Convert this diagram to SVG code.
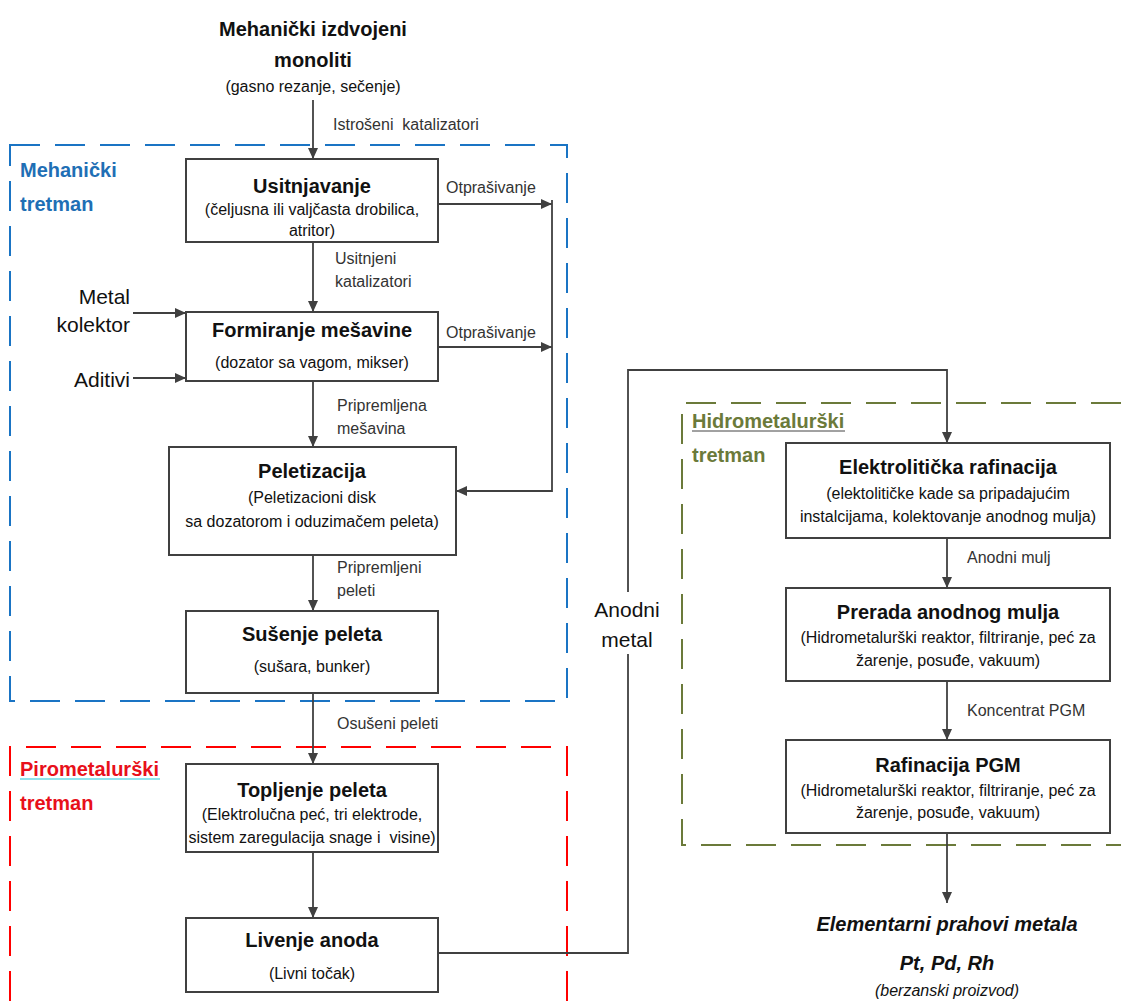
<svg xmlns="http://www.w3.org/2000/svg" width="1121" height="1001" viewBox="0 0 1121 1001">
<style>
text{font-family:"Liberation Sans",Arial,sans-serif;fill:#111}
.box{fill:#fff;stroke:#404040;stroke-width:2}
.t{font-weight:bold;font-size:20px;text-anchor:middle}
.s{font-size:16px;text-anchor:middle}
.l{font-size:16px;fill:#333}
.side{font-size:21px}
.c{fill:none;stroke:#404040;stroke-width:1.8}
.sec{font-weight:bold;font-size:20px}
</style>
<defs>
<marker id="ah" markerUnits="userSpaceOnUse" markerWidth="11" markerHeight="10" refX="11" refY="5" orient="auto">
<path d="M0,0 L11,5 L0,10 Z" fill="#404040"/>
</marker>
</defs>

<g id="regions">
<path d="M10,145 H567 V701 H10 Z" fill="none" stroke="#1a74c4" stroke-width="2" stroke-dasharray="30 15"/>
<path d="M10,1001 V747 H567 V1001" fill="none" stroke="#ff0000" stroke-width="2" stroke-dasharray="30 15"/>
<path d="M1121,403 H682 V845 H1121" fill="none" stroke="#6b7a3a" stroke-width="2" stroke-dasharray="30 15"/>
<text class="sec" x="20" y="177" style="fill:#1f6fb5">Mehanički</text>
<text class="sec" x="20" y="211" style="fill:#1f6fb5">tretman</text>
<text class="sec" x="20" y="776" style="fill:#e8101a">Pirometalurški</text>
<line x1="20" y1="779" x2="160" y2="779" stroke="#22c8d8" stroke-width="1.2"/>
<text class="sec" x="20" y="810" style="fill:#e8101a">tretman</text>
<text class="sec" x="692" y="428" style="fill:#6b7a3a">Hidrometalurški</text>
<line x1="692" y1="431" x2="845" y2="431" stroke="#444" stroke-width="1"/>
<text class="sec" x="692" y="462" style="fill:#6b7a3a">tretman</text>
</g>

<g id="connectors">
<line class="c" x1="313" y1="100" x2="313" y2="159" marker-end="url(#ah)"/>
<line class="c" x1="313" y1="242" x2="313" y2="312" marker-end="url(#ah)"/>
<line class="c" x1="313" y1="381" x2="313" y2="447" marker-end="url(#ah)"/>
<line class="c" x1="313" y1="555" x2="313" y2="611" marker-end="url(#ah)"/>
<line class="c" x1="313" y1="693" x2="313" y2="764" marker-end="url(#ah)"/>
<line class="c" x1="313" y1="852" x2="313" y2="918" marker-end="url(#ah)"/>
<line class="c" x1="438" y1="204" x2="552" y2="204" marker-end="url(#ah)"/>
<line class="c" x1="438" y1="347" x2="552" y2="347" marker-end="url(#ah)"/>
<polyline class="c" points="552,200 552,491 456,491" marker-end="url(#ah)"/>
<line class="c" x1="133" y1="313" x2="186" y2="313" marker-end="url(#ah)"/>
<line class="c" x1="133" y1="378" x2="186" y2="378" marker-end="url(#ah)"/>
<polyline class="c" points="438,953 628,953 628,654"/>
<polyline class="c" points="628,592 628,370 947,370 947,443" marker-end="url(#ah)"/>
<line class="c" x1="947" y1="538" x2="947" y2="588" marker-end="url(#ah)"/>
<line class="c" x1="947" y1="681" x2="947" y2="740" marker-end="url(#ah)"/>
<line class="c" x1="947" y1="833" x2="947" y2="903" marker-end="url(#ah)"/>
<text class="l" x="333" y="130">Istrošeni&#160; katalizatori</text>
<text class="l" x="446" y="193">Otprašivanje</text>
<text class="l" x="446" y="338">Otprašivanje</text>
<text class="l" x="335" y="264">Usitnjeni</text>
<text class="l" x="335" y="287">katalizatori</text>
<text class="l" x="337" y="411">Pripremljena</text>
<text class="l" x="337" y="434">mešavina</text>
<text class="l" x="337" y="573">Pripremljeni</text>
<text class="l" x="337" y="596">peleti</text>
<text class="l" x="337" y="729">Osušeni peleti</text>
<text class="l" x="967" y="563">Anodni mulj</text>
<text class="l" x="967" y="716">Koncentrat PGM</text>
<text class="side" x="130" y="304" text-anchor="end">Metal</text>
<text class="side" x="130" y="332" text-anchor="end">kolektor</text>
<text class="side" x="130" y="387" text-anchor="end">Aditivi</text>
<text class="side" x="627" y="617" text-anchor="middle">Anodni</text>
<text class="side" x="627" y="647" text-anchor="middle">metal</text>
</g>

<g id="source">
<text class="t" x="313" y="36">Mehanički izdvojeni</text>
<text class="t" x="313" y="67">monoliti</text>
<text class="s" x="313" y="92">(gasno rezanje, sečenje)</text>
</g>

<g id="usitnjavanje">
<rect class="box" x="186" y="159" width="252" height="83"/>
<text class="t" x="312" y="193">Usitnjavanje</text>
<text class="s" x="312" y="215">(čeljusna ili valjčasta drobilica,</text>
<text class="s" x="312" y="236">atritor)</text>
</g>

<g id="formiranje">
<rect class="box" x="186" y="312" width="252" height="69"/>
<text class="t" x="312" y="337">Formiranje mešavine</text>
<text class="s" x="312" y="368">(dozator sa vagom, mikser)</text>
</g>

<g id="peletizacija">
<rect class="box" x="169" y="447" width="287" height="108"/>
<text class="t" x="312" y="478">Peletizacija</text>
<text class="s" x="312" y="503">(Peletizacioni disk</text>
<text class="s" x="312" y="527">sa dozatorom i oduzimačem peleta)</text>
</g>

<g id="susenje">
<rect class="box" x="186" y="611" width="252" height="82"/>
<text class="t" x="312" y="641">Sušenje peleta</text>
<text class="s" x="312" y="672">(sušara, bunker)</text>
</g>

<g id="topljenje">
<rect class="box" x="186" y="764" width="252" height="88"/>
<text class="t" x="312" y="797">Topljenje peleta</text>
<text class="s" x="312" y="820">(Elektrolučna peć, tri elektrode,</text>
<text class="s" x="312" y="843">sistem zaregulacija snage i&#160; visine)</text>
</g>

<g id="livenje">
<rect class="box" x="186" y="918" width="252" height="74"/>
<text class="t" x="312" y="947">Livenje anoda</text>
<text class="s" x="312" y="979">(Livni točak)</text>
</g>

<g id="elektroliticka">
<rect class="box" x="786" y="443" width="324" height="95"/>
<text class="t" x="948" y="474">Elektrolitička rafinacija</text>
<text class="s" x="948" y="499">(elektolitičke kade sa pripadajućim</text>
<text class="s" x="948" y="522">instalcijama, kolektovanje anodnog mulja)</text>
</g>

<g id="prerada">
<rect class="box" x="786" y="588" width="324" height="93"/>
<text class="t" x="948" y="619">Prerada anodnog mulja</text>
<text class="s" x="948" y="643">(Hidrometalurški reaktor, filtriranje, peć za</text>
<text class="s" x="948" y="666">žarenje, posuđe, vakuum)</text>
</g>

<g id="rafinacija">
<rect class="box" x="786" y="740" width="324" height="93"/>
<text class="t" x="948" y="772">Rafinacija PGM</text>
<text class="s" x="948" y="796">(Hidrometalurški reaktor, filtriranje, peć za</text>
<text class="s" x="948" y="818">žarenje, posuđe, vakuum)</text>
</g>

<g id="product">
<text class="t" x="947" y="931" font-style="italic">Elementarni prahovi metala</text>
<text class="t" x="947" y="970" font-style="italic">Pt, Pd, Rh</text>
<text class="s" x="947" y="996" font-style="italic">(berzanski proizvod)</text>
</g>
</svg>
